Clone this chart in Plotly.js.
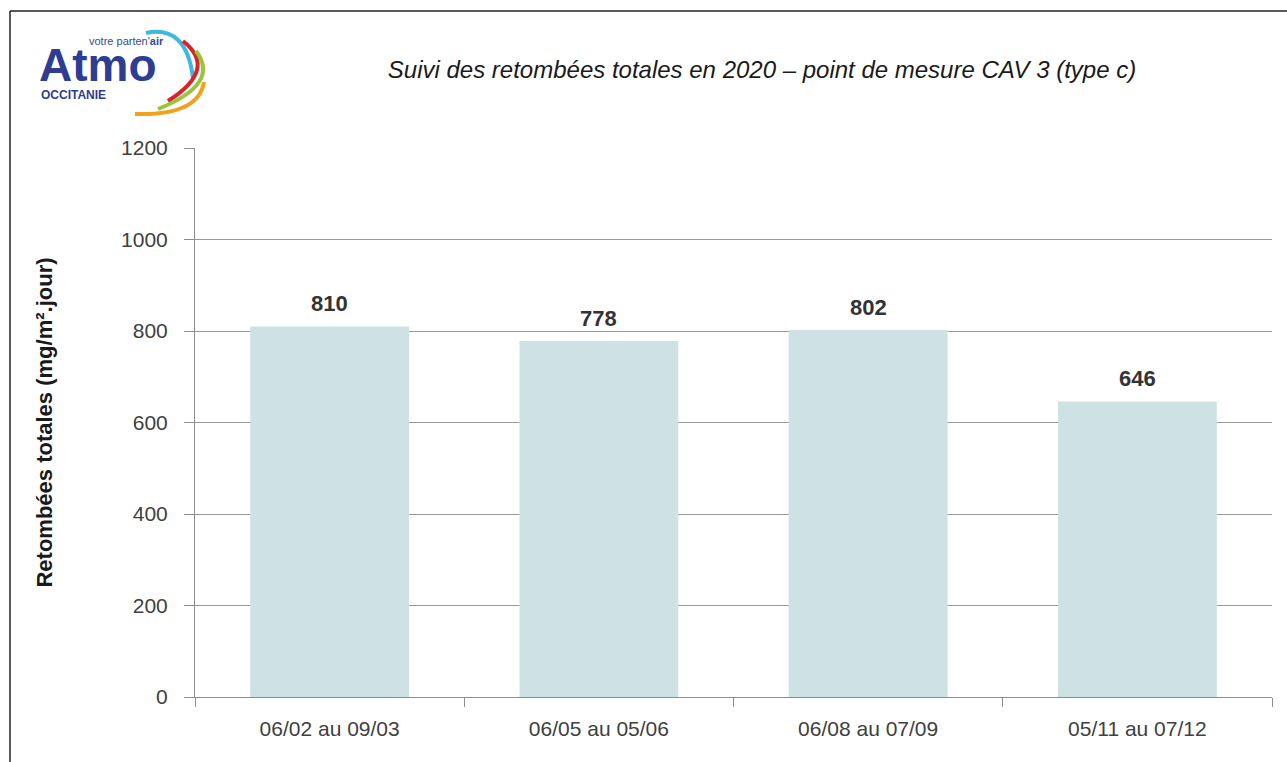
<!DOCTYPE html>
<html>
<head>
<meta charset="utf-8">
<script src="https://cdn.plot.ly/plotly-3.0.1.min.js"></script>
<style>
  html, body { margin: 0; padding: 0; background: #ffffff; }
  #chart { width: 1287px; height: 762px; }
</style>
</head>
<body>
<div id="chart"></div>
<script>
// ---- Data ----
const periods = ["06/02 au 09/03", "06/05 au 05/06", "06/08 au 07/09", "05/11 au 07/12"];
const retombees = [810, 778, 802, 646];
const yTickValues = [0, 200, 400, 600, 800, 1000, 1200];

const chartTitle = "Suivi des retombées totales en 2020 – point de mesure CAV 3 (type c)";
const yAxisTitle = "Retombées totales (mg/m².jour)";

// ---- Geometry helpers (decoration only) ----
const W = 1287, H = 762;
const M = { l: 195, r: 15, t: 148, b: 65 };
const PW = W - M.l - M.r, PH = H - M.t - M.b;
const px = x => (x - M.l) / PW;
const py = y => (H - M.b - y) / PH;

function qpath(p0, c, p1) {
  return "M " + px(p0[0]) + " " + py(p0[1]) +
         " Q " + px(c[0]) + " " + py(c[1]) + " " + px(p1[0]) + " " + py(p1[1]);
}
function arcFromThree(s, m, e) {
  const c = [2 * m[0] - (s[0] + e[0]) / 2, 2 * m[1] - (s[1] + e[1]) / 2];
  return qpath(s, c, e);
}

const logoArcs = [
  { s: [146, 33], m: [178, 40], e: [193, 78], color: "#3db9e1" },
  { s: [183, 41], m: [197, 70], e: [168, 101], color: "#d7232b" },
  { s: [196, 51], m: [199, 82], e: [158, 109], color: "#9ac43c" },
  { s: [204, 82], m: [184, 107], e: [135, 114], color: "#f2a11c" }
];

const shapes = [
  // frame of the original picture
  { type: "line", xref: "paper", yref: "paper", x0: px(10), y0: py(11), x1: px(1287), y1: py(11),
    line: { color: "#222222", width: 1.5 } },
  { type: "line", xref: "paper", yref: "paper", x0: px(10), y0: py(11), x1: px(10), y1: py(762),
    line: { color: "#222222", width: 1.5 } }
];
logoArcs.forEach(a => shapes.push({
  type: "path", xref: "paper", yref: "paper",
  path: arcFromThree(a.s, a.m, a.e),
  line: { color: a.color, width: 4 }
}));

const annotations = [];
// value labels above bars
periods.forEach((p, i) => annotations.push({
  x: p, y: retombees[i], xref: "x", yref: "y",
  text: "<b>" + retombees[i] + "</b>", showarrow: false,
  yanchor: "middle", yshift: 23,
  font: { family: "Liberation Sans, Arial, sans-serif", size: 22, color: "#333333" }
}));
// logo text
annotations.push({
  xref: "paper", yref: "paper", x: px(98), y: py(65), xanchor: "center", yanchor: "middle",
  text: "<b>Atmo</b>", showarrow: false,
  font: { family: "Liberation Sans, Arial, sans-serif", size: 46, color: "#2e3c92" }
});
annotations.push({
  xref: "paper", yref: "paper", x: px(126), y: py(41), xanchor: "center", yanchor: "middle",
  text: "votre parten'<b>air</b>", showarrow: false,
  font: { family: "Liberation Sans, Arial, sans-serif", size: 11, color: "#3a4a8f" }
});
annotations.push({
  xref: "paper", yref: "paper", x: px(39), y: py(95), xanchor: "left", yanchor: "middle",
  text: "<b>OCCITANIE</b>", showarrow: false,
  font: { family: "Liberation Sans, Arial, sans-serif", size: 12, color: "#2e3c92" }
});

const trace = {
  type: "bar",
  x: periods,
  y: retombees,
  marker: { color: "#cfe2e3", line: { width: 0 } },
  hoverinfo: "x+y"
};

const layout = {
  width: W, height: H,
  margin: M,
  paper_bgcolor: "#ffffff",
  plot_bgcolor: "#ffffff",
  showlegend: false,
  bargap: 0.41,
  font: { family: "Liberation Sans, Arial, sans-serif", color: "#404040" },
  title: {
    text: "<i>" + chartTitle + "</i>",
    xref: "container", yref: "container",
    x: 762 / W, y: 1 - 70 / H, xanchor: "center", yanchor: "middle",
    font: { family: "Liberation Sans, Arial, sans-serif", size: 24, color: "#1a1a1a" }
  },
  xaxis: {
    type: "category",
    tickson: "boundaries",
    ticks: "outside", ticklen: 9, tickcolor: "#8c8c8c", tickwidth: 1,
    showline: true, linecolor: "#8c8c8c", linewidth: 1,
    showgrid: false, zeroline: false,
    ticklabelstandoff: 13,
    tickfont: { size: 21, color: "#404040" }
  },
  yaxis: {
    range: [0, 1200],
    tickvals: yTickValues,
    ticks: "outside", ticklen: 10, tickcolor: "#8c8c8c", tickwidth: 1,
    showline: true, linecolor: "#8c8c8c", linewidth: 1,
    showgrid: true, gridcolor: "#999999", gridwidth: 1,
    zeroline: false,
    ticklabelstandoff: 12,
    tickfont: { size: 21, color: "#404040" },
    title: {
      text: "<b>" + yAxisTitle + "</b>",
      standoff: 62,
      font: { size: 22, color: "#1a1a1a" }
    }
  },
  shapes: shapes,
  annotations: annotations
};

Plotly.newPlot("chart", [trace], layout, { displayModeBar: false, staticPlot: true });
</script>
</body>
</html>
